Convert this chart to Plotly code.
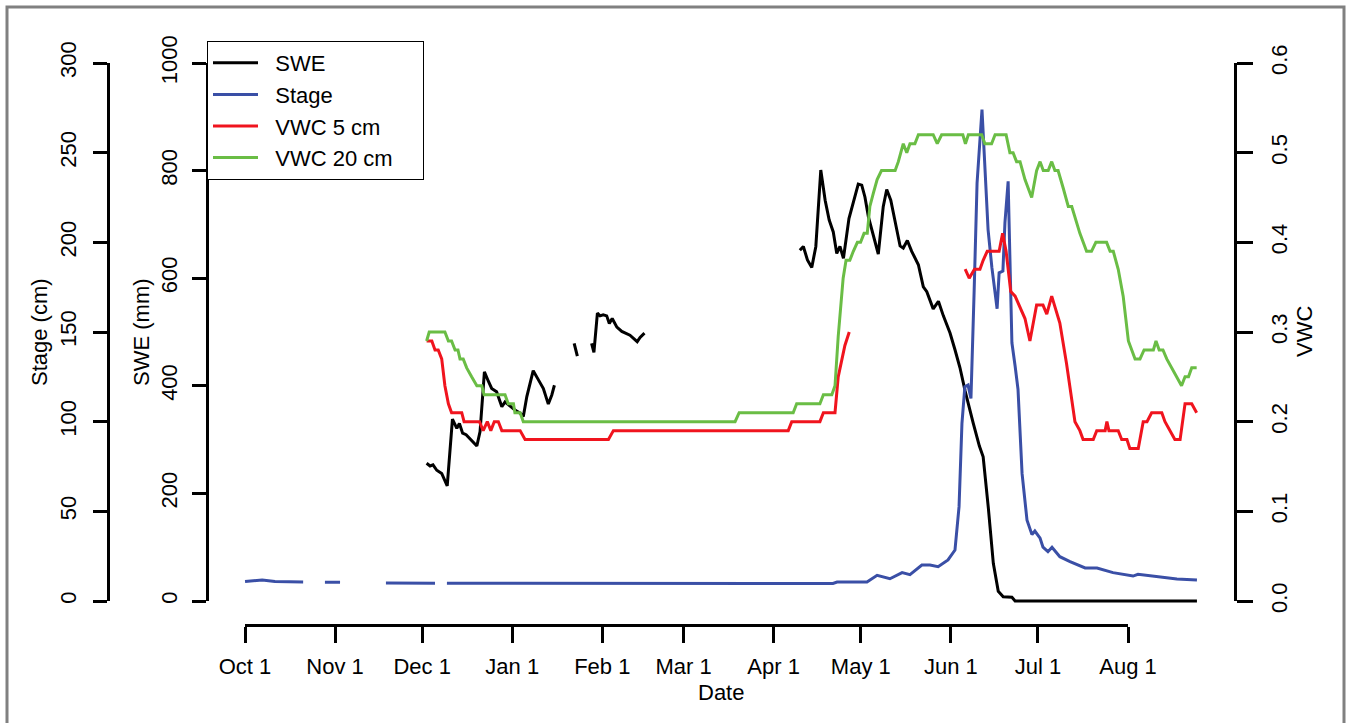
from datetime import datetime, timedelta

import plotly.graph_objects as go

W, H = 1351, 723
BASE = datetime(2012, 10, 1)  # day 0 = Oct 1

# --- data (days since Oct 1) ---
STAGE_DAY = [0.0, 5.9, 10.3, 20.0, None, 27.5, 32.7, None, 48.5, 65.4, None,
             69.5, 94.7, 108.4, 129.1, 156.6, 177.3, 202.4, 203.8, 214.1,
             217.6, 222.0, 226.2, 228.9, 233.0, 235.8, 238.6, 242.0, 244.4, 245.8,
             246.8, 247.8, 248.9, 249.9, 251.0, 252.0, 253.7, 254.7, 255.8, 257.1,
             258.9, 259.6, 260.9, 261.6, 262.7, 263.3, 264.0, 265.1, 266.1, 267.5,
             269.2, 270.9, 271.9, 273.7, 274.7, 276.4, 277.8, 280.5, 284.0, 289.2,
             293.3, 298.8, 305.7, 307.4, 313.9, 320.8, 327.7]
STAGE_CM = [10.8, 11.7, 10.9, 10.6, None, 10.4, 10.4, None, 10.0, 9.9, None,
            9.9, 9.9, 9.7, 9.8, 9.5, 9.7, 9.8, 10.6, 10.6,
            14.3, 12.4, 15.8, 14.7, 20, 20, 19.1, 22.9, 28.4, 52.6,
            99, 119.5, 120.4, 113, 173, 233, 274, 239, 207, 186,
            163, 183, 184, 211, 234, 192, 144, 131, 118, 71,
            45, 37, 39, 35, 30, 27.5, 30, 24.7, 21.9, 18.4,
            18.4, 15.8, 13.9, 14.9, 13.6, 12.3, 11.7]

SWE_DAY = [62.5, 63.7, 64.7, 66.0, 67.7, 69.6, 71.4, 72.9, 73.8, 74.9,
           76.1, 78.0, 79.8, 80.9, 81.8, 82.4, 83.8, 84.9, 86.6, 88.4,
           89.5, 91.2, 92.9, 94.7, 95.8, 97.0, 98.1, 99.2, 101.0, 102.7,
           104.4, 105.6, 106.5, None, 113.3, 114.4, None, 119.3, 120.1, 121.3,
           122.2, 123.3, 124.5, 125.4, 126.4, 128.0, 129.7, 132.5, 135.0, 136.0,
           137.5, None, 191.0, 192.2, 193.6, 195.1, 196.5, 198.2, 199.7, 201.1,
           202.5, 203.7, 204.8, 206.0, 207.9, 209.4, 211.1, 212.3, 213.4, 214.6,
           216.3, 218.0, 219.7, 220.9, 222.3, 223.8, 225.5, 226.6, 228.0, 229.5,
           231.8, 233.5, 234.7, 236.9, 238.7, 240.4, 242.7, 244.4, 246.1, 247.9,
           249.6, 250.7, 252.8, 254.1, 255.9, 257.6, 259.3, 261.0, 264.0, 265.1,
           327.7]
SWE_MM = [256, 251, 253, 243, 237, 214, 338, 321, 330, 312,
          309, 299, 288, 315, 392, 426, 408, 395, 389, 361,
          370, 362, 355, 349, 343, 380, 405, 428, 411, 395,
          366, 383, 401, None, 479, 455, None, 479, 462, 535,
          530, 532, 530, 516, 525, 509, 501, 494, 482, 490,
          498, None, 652, 659, 634, 620, 659, 801, 745, 708,
          686, 646, 659, 637, 711, 739, 775, 773, 751, 714,
          677, 645, 733, 765, 745, 708, 660, 656, 670, 650,
          625, 584, 575, 543, 557, 530, 498, 467, 434, 390,
          350, 330, 288, 268, 172, 70, 18, 8, 7, 0,
          0]

VWC5_DAY = [62.5, 64.3, 65.4, 66.5, 67.7, 68.8, 70.0, 71.1, 74.6, 75.4,
            80.7, 82.0, 83.4, 84.6, 85.8, 87.2, 88.4, 94.7, 96.4, 125.1,
            126.8, 187.0, 188.2, 197.9, 199.1, 203.1, 204.2, 205.4, 206.5, 208.0,
            None,
            247.9, 249.3, 251.1, 253.0, 254.1, 255.5, 259.6, 260.8, 262.0, 263.6,
            265.1, 266.5, 268.5, 270.2, 272.5, 274.7, 276.0, 277.7, 280.5, 282.8,
            285.7, 287.4, 288.5, 292.0, 293.2, 296.1, 296.7, 297.4, 300.6, 301.8,
            303.6, 304.6, 307.5, 309.2, 310.5, 312.1, 315.6, 316.7, 318.4, 320.1,
            321.9, 323.6, 325.9, 327.6]
VWC5 = [0.29, 0.29, 0.28, 0.28, 0.27, 0.24, 0.22, 0.21, 0.21, 0.20,
        0.20, 0.19, 0.20, 0.19, 0.20, 0.20, 0.19, 0.19, 0.18, 0.18,
        0.19, 0.19, 0.20, 0.20, 0.21, 0.21, 0.25, 0.27, 0.285, 0.30,
        None,
        0.37, 0.36, 0.37, 0.37, 0.38, 0.39, 0.39, 0.41, 0.39, 0.345,
        0.34, 0.33, 0.315, 0.29, 0.33, 0.33, 0.32, 0.34, 0.31, 0.265,
        0.20, 0.19, 0.18, 0.18, 0.19, 0.19, 0.20, 0.19, 0.19, 0.18,
        0.18, 0.17, 0.17, 0.20, 0.20, 0.21, 0.21, 0.20, 0.19, 0.18,
        0.18, 0.22, 0.22, 0.21]

VWC20_DAY = [62.5, 63.4, 68.8, 70.0, 71.1, 72.3, 73.3, 74.0, 75.1, 76.3,
             78.0, 79.8, 81.5, 82.3, 89.5, 90.6, 92.4, 92.9, 94.7, 95.8,
             168.7, 170.1, 188.7, 189.9, 197.9, 199.1, 202.0, 203.1, 204.2, 205.0,
             205.9, 206.9, 208.2, 209.4, 210.8, 211.9, 213.1, 214.2, 215.1, 216.3,
             217.6, 219.1, 223.8, 224.9, 225.7, 226.6, 227.8, 228.9, 230.6, 231.8,
             236.9, 238.3, 239.8, 247.1, 248.0, 249.0, 253.6, 254.7, 257.0, 258.2,
             262.0, 263.3, 264.4, 265.6, 266.8, 268.5, 270.8, 272.5, 273.7, 274.8,
             276.5, 277.7, 278.8, 279.9, 281.7, 283.4, 284.6, 287.4, 289.7, 291.4,
             292.9, 296.6, 297.8, 298.9, 300.6, 302.3, 304.1, 306.4, 308.1, 309.5,
             312.7, 313.6, 314.7, 316.0, 317.3, 319.0, 320.8, 322.4, 323.6, 324.8,
             325.9, 327.6]
VWC20 = [0.29, 0.30, 0.30, 0.29, 0.29, 0.28, 0.28, 0.27, 0.27, 0.26,
         0.25, 0.24, 0.24, 0.23, 0.23, 0.22, 0.22, 0.21, 0.21, 0.20,
         0.20, 0.21, 0.21, 0.22, 0.22, 0.23, 0.23, 0.24, 0.295, 0.33,
         0.36, 0.38, 0.38, 0.39, 0.40, 0.40, 0.41, 0.41, 0.44, 0.455,
         0.47, 0.48, 0.48, 0.49, 0.50, 0.51, 0.50, 0.51, 0.51, 0.52,
         0.52, 0.51, 0.52, 0.52, 0.51, 0.52, 0.52, 0.51, 0.51, 0.52,
         0.52, 0.50, 0.50, 0.49, 0.49, 0.47, 0.45, 0.48, 0.49, 0.48,
         0.48, 0.49, 0.48, 0.48, 0.46, 0.44, 0.44, 0.41, 0.39, 0.39,
         0.40, 0.40, 0.39, 0.39, 0.37, 0.34, 0.29, 0.27, 0.27, 0.28,
         0.28, 0.29, 0.28, 0.28, 0.27, 0.26, 0.25, 0.24, 0.25, 0.25,
         0.26, 0.26]

TICK_DAYS = [0, 31, 61, 92, 123, 151, 182, 212, 243, 273, 304]
TICK_LABELS = ["Oct 1", "Nov 1", "Dec 1", "Jan 1", "Feb 1", "Mar 1",
               "Apr 1", "May 1", "Jun 1", "Jul 1", "Aug 1"]

FONT = "Liberation Sans, Arial, sans-serif"
FS = 22
COLORS = {"swe": "black", "stage": "#3a4fa6", "vwc5": "#f0141e", "vwc20": "#6abd45"}
NB = "\u00a0"  # pad legend labels so the box spaces out like R's legend()


def to_dates(days):
    return [BASE + timedelta(days=d) if d is not None else None for d in days]


def fx(p):
    return p / W


def fy(p):
    return 1 - p / H


def legend_name(s, tail=0):
    return NB * 2 + s + NB * tail


fig = go.Figure()
fig.add_trace(go.Scatter(x=to_dates(SWE_DAY), y=SWE_MM, name=legend_name("SWE"),
                         mode="lines", line=dict(color=COLORS["swe"], width=3), yaxis="y"))
fig.add_trace(go.Scatter(x=to_dates(STAGE_DAY), y=STAGE_CM, name=legend_name("Stage"),
                         mode="lines", line=dict(color=COLORS["stage"], width=3), yaxis="y2"))
fig.add_trace(go.Scatter(x=to_dates(VWC5_DAY), y=VWC5, name=legend_name("VWC 5 cm"),
                         mode="lines", line=dict(color=COLORS["vwc5"], width=3), yaxis="y3"))
fig.add_trace(go.Scatter(x=to_dates(VWC20_DAY), y=VWC20, name=legend_name("VWC 20 cm", 4),
                         mode="lines", line=dict(color=COLORS["vwc20"], width=3), yaxis="y3"))

# empty traces that carry the drawn axes (R style: lines only span the ticks)
for ya in ["y4", "y5", "y6"]:
    fig.add_trace(go.Scatter(x=[], y=[], xaxis="x2", yaxis=ya, showlegend=False,
                             hoverinfo="skip"))

tick_style = dict(ticks="outside", tickwidth=3, tickcolor="black", showline=True,
                  linewidth=3, linecolor="black", showgrid=False, zeroline=False,
                  tickfont=dict(family=FONT, size=FS, color="black"))

fig.update_layout(
    width=W, height=H,
    margin=dict(l=0, r=0, t=0, b=0, autoexpand=False),
    plot_bgcolor="rgba(0,0,0,0)", paper_bgcolor="white",
    font=dict(family=FONT, size=FS, color="black"),
    xaxis=dict(domain=[fx(207), fx(1235)], type="date", visible=False,
               range=[BASE + timedelta(days=-13.1), BASE + timedelta(days=340.8)]),
    yaxis=dict(domain=[fy(622.5), fy(41.5)], range=[-40, 1040], visible=False),
    yaxis2=dict(overlaying="y", range=[-12, 312], visible=False),
    yaxis3=dict(overlaying="y", range=[-0.024, 0.624], visible=False),
    xaxis2=dict(domain=[fx(245), fx(1128)], type="date", anchor="free",
                position=fy(625), range=[BASE, BASE + timedelta(days=304)],
                tickmode="array", tickvals=to_dates(TICK_DAYS), ticktext=TICK_LABELS,
                ticklen=16, ticklabelstandoff=5, **tick_style),
    yaxis4=dict(domain=[fy(601), fy(63)], range=[0, 300], anchor="free",
                position=fx(108), side="left", tickmode="linear", tick0=0, dtick=50,
                tickangle=-90, ticklen=14, ticklabelstandoff=8, **tick_style),
    yaxis5=dict(domain=[fy(601), fy(63)], range=[0, 1000], anchor="free",
                position=fx(207), side="left", tickmode="linear", tick0=0, dtick=200,
                tickangle=-90, ticklen=14, ticklabelstandoff=6, **tick_style),
    yaxis6=dict(domain=[fy(601), fy(63)], range=[0, 0.6], anchor="free",
                position=fx(1235), side="right", tickmode="linear", tick0=0, dtick=0.1,
                tickformat=".1f", tickangle=-90, ticklen=16, ticklabelstandoff=8,
                **tick_style),
    legend=dict(x=fx(207), y=fy(41), xanchor="left", yanchor="top",
                bgcolor="white", bordercolor="black", borderwidth=1,
                font=dict(family=FONT, size=FS, color="black"),
                itemwidth=45, tracegroupgap=0),
    showlegend=True,
    annotations=[
        dict(text="Stage (cm)", x=fx(40), y=fy(332), textangle=-90, showarrow=False),
        dict(text="SWE (mm)", x=fx(142), y=fy(332), textangle=-90, showarrow=False),
        dict(text="VWC", x=fx(1305), y=fy(332), textangle=-90, showarrow=False),
        dict(text="Date", x=fx(721), y=fy(692), showarrow=False),
    ],
    shapes=[dict(type="rect", xref="paper", yref="paper", x0=fx(7), x1=fx(1344),
                 y0=-0.2, y1=fy(7), line=dict(color="#808080", width=3))],
)
for a in fig.layout.annotations:
    a.update(xref="paper", yref="paper", xanchor="center", yanchor="middle",
             font=dict(family=FONT, size=FS, color="black"))

fig.write_html("out.html", config={"displayModeBar": False},
               post_script="document.body.style.margin='0';")
